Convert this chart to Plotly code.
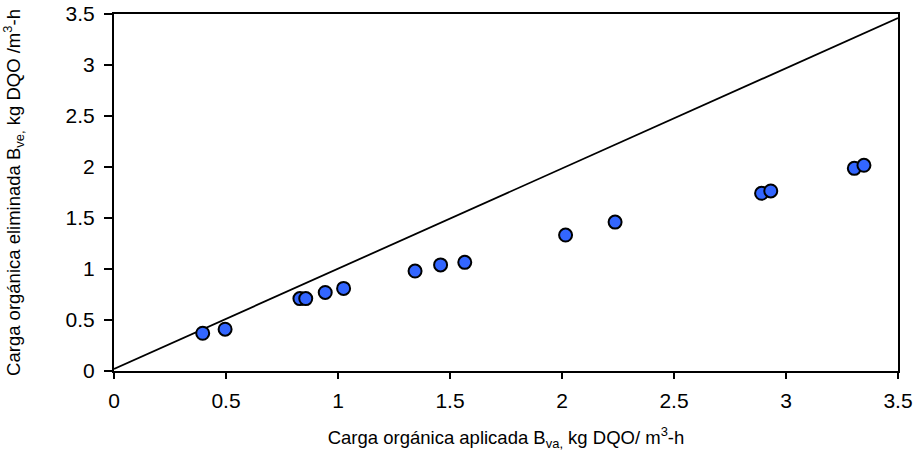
import plotly.graph_objects as go

# applied vs removed organic load
b_va = [0.396, 0.496, 0.83, 0.856, 0.943, 1.025, 1.344, 1.458, 1.566,
        2.016, 2.237, 2.891, 2.932, 3.305, 3.348]
b_ve = [0.37, 0.41, 0.71, 0.71, 0.77, 0.81, 0.98, 1.04, 1.065,
        1.333, 1.46, 1.742, 1.765, 1.987, 2.017]

line_x = [0, 3.5]
line_y = [0.02, 3.46]

fig = go.Figure()
fig.add_trace(go.Scatter(x=line_x, y=line_y, mode="lines",
                         line=dict(color="black", width=1.8), showlegend=False))
fig.add_trace(go.Scatter(x=b_va, y=b_ve, mode="markers",
                         marker=dict(size=13, color="#3366FF",
                                     line=dict(color="black", width=2)),
                         showlegend=False, cliponaxis=False))

axis_common = dict(showgrid=False, zeroline=False, showline=True, linecolor="black",
                   linewidth=2, mirror=True, ticks="outside", ticklabeloverflow="allow",
                   tickcolor="black", tickwidth=1.5, tickfont=dict(size=21, color="black"),
                   range=[0, 3.5], dtick=0.5, automargin=False)

fig.update_layout(
    width=915, height=451,
    margin=dict(l=114, r=17, t=14, b=80),
    plot_bgcolor="white", paper_bgcolor="white",
    font=dict(family="Liberation Sans, Arial, sans-serif", color="black"),
    xaxis=dict(axis_common, ticklen=6, ticklabelstandoff=4,
               title=dict(text="Carga orgánica aplicada B<sub>va,</sub> kg DQO/ m<sup>3</sup>-h",
                          font=dict(size=18.5), standoff=33)),
    yaxis=dict(axis_common, ticklen=8, ticklabelstandoff=5,
               title=dict(text="Carga orgánica eliminada B<sub>ve,</sub> kg DQO /m<sup>3</sup>-h",
                          font=dict(size=18.5), standoff=49)),
)

# drop the default 8px body margin so the figure fills the window
fig.write_html("out.html", config={"displayModeBar": False},
               post_script="document.body.style.margin = '0';")
